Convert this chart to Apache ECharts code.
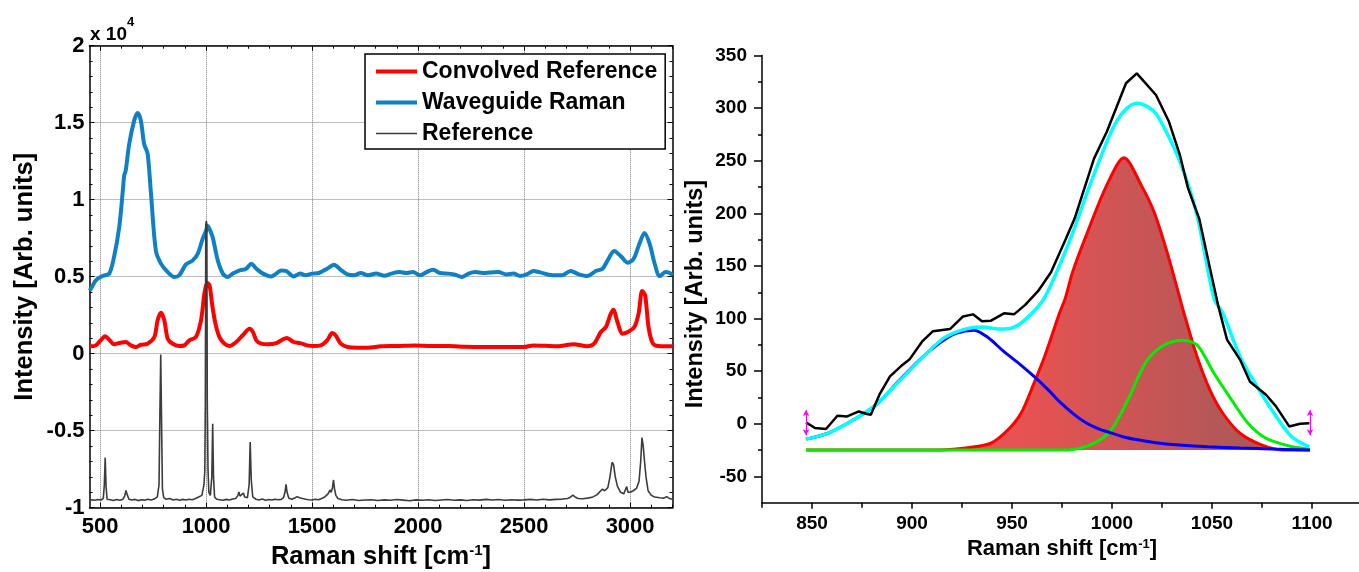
<!DOCTYPE html>
<html><head><meta charset="utf-8">
<script src="https://cdn.jsdelivr.net/npm/echarts@6/dist/echarts.min.js"></script>
<style>html,body{margin:0;padding:0;background:#fff}#c{width:1359px;height:572px}</style>
</head><body><div id="c"></div>
<script>
const FONT = '"Liberation Sans", Arial, sans-serif';

// ---------- Left panel (values in units of 10^4) ----------
const leftXTicks = [500, 1000, 1500, 2000, 2500, 3000];
const leftXMinorTicks = [500,600,700,800,900,1000,1100,1200,1300,1400,1500,1600,1700,1800,1900,2000,2100,2200,2300,2400,2500,2600,2700,2800,2900,3000,3100,3200];

const convX = [450,456,480,503,524,543,566,590,621,645,668,692,724,756,771,787,803,819,842,874,897,921,952,976,992,1005,1016,1028,1044,1063,1087,1110,1142,1173,1205,1221,1237,1260,1292,1331,1355,1381,1413,1444,1476,1508,1540,1571,1595,1611,1635,1667,1714,1762,1825,1905,1984,2063,2143,2222,2300,2400,2497,2544,2656,2735,2798,2830,2862,2886,2909,2922,2938,2965,2989,3020,3040,3057,3071,3087,3108,3147,3200];
const convY = [0.048,0.048,0.054,0.087,0.113,0.091,0.061,0.069,0.076,0.054,0.043,0.058,0.065,0.108,0.216,0.266,0.216,0.097,0.065,0.05,0.054,0.087,0.108,0.216,0.39,0.459,0.444,0.325,0.195,0.108,0.065,0.05,0.076,0.12,0.162,0.141,0.087,0.065,0.061,0.069,0.087,0.102,0.076,0.069,0.054,0.05,0.054,0.087,0.134,0.119,0.065,0.043,0.039,0.039,0.048,0.05,0.054,0.05,0.05,0.045,0.043,0.043,0.043,0.054,0.048,0.061,0.048,0.065,0.141,0.173,0.26,0.286,0.216,0.13,0.141,0.173,0.26,0.407,0.379,0.173,0.065,0.048,0.048];

const waveX = [450,456,480,511,543,566,590,606,614,621,637,661,677,692,708,724,740,763,787,819,850,874,905,937,961,984,1000,1008,1016,1031,1055,1079,1102,1126,1158,1189,1213,1237,1268,1307,1331,1355,1378,1413,1444,1468,1500,1532,1571,1603,1635,1667,1698,1730,1762,1802,1841,1873,1913,1944,1976,2008,2040,2071,2103,2143,2175,2206,2238,2270,2306,2340,2378,2417,2450,2481,2513,2544,2576,2624,2679,2719,2759,2798,2838,2870,2894,2925,2957,2989,3017,3044,3068,3092,3116,3140,3167,3187,3200];
const waveY = [0.41,0.42,0.476,0.504,0.52,0.63,0.82,1.04,1.16,1.19,1.36,1.515,1.563,1.515,1.36,1.30,1.04,0.67,0.585,0.53,0.498,0.51,0.58,0.606,0.65,0.747,0.80,0.83,0.81,0.757,0.606,0.52,0.498,0.52,0.541,0.552,0.584,0.552,0.52,0.502,0.52,0.541,0.537,0.502,0.52,0.51,0.52,0.524,0.552,0.578,0.545,0.515,0.509,0.524,0.509,0.52,0.506,0.52,0.53,0.524,0.53,0.509,0.53,0.545,0.524,0.52,0.513,0.498,0.52,0.53,0.524,0.528,0.53,0.515,0.52,0.504,0.515,0.537,0.528,0.511,0.509,0.537,0.515,0.504,0.537,0.552,0.606,0.667,0.632,0.591,0.617,0.714,0.784,0.714,0.584,0.504,0.53,0.524,0.509];

const refX = [450,462,475,490,505,515,520,524,528,533,548,562,578,593,608,616,622,628,636,650,665,680,695,710,725,740,755,770,778,782,786,790,794,800,812,828,845,860,875,890,905,920,935,950,965,980,990,994,996.5,998.5,1001,1003.5,1005.5,1009,1013,1020,1027,1031,1035,1040,1050,1065,1080,1095,1110,1125,1140,1150,1155,1160,1168,1176,1182,1195,1203,1208,1213,1220,1235,1250,1265,1280,1295,1310,1325,1340,1355,1365,1372,1377,1382,1390,1405,1420,1430,1440,1455,1470,1485,1500,1515,1530,1545,1560,1575,1585,1590,1596,1601,1606,1612,1622,1640,1660,1690,1720,1750,1780,1810,1840,1870,1900,1930,1960,1990,2020,2050,2080,2110,2140,2170,2200,2230,2260,2290,2320,2350,2380,2410,2440,2470,2500,2530,2560,2590,2620,2650,2680,2705,2720,2730,2740,2755,2775,2800,2825,2845,2860,2870,2880,2895,2905,2915,2922,2930,2940,2955,2970,2978,2984,2990,3000,3015,3030,3042,3050,3056,3062,3068,3075,3085,3100,3116,3140,3160,3172,3185,3200];
const refY = [-0.955,-0.948,-0.952,-0.947,-0.95,-0.94,-0.85,-0.675,-0.86,-0.945,-0.948,-0.953,-0.947,-0.952,-0.945,-0.925,-0.888,-0.915,-0.945,-0.95,-0.946,-0.954,-0.948,-0.951,-0.945,-0.95,-0.944,-0.93,-0.85,-0.4,-0.005,-0.45,-0.88,-0.935,-0.945,-0.94,-0.95,-0.945,-0.951,-0.946,-0.95,-0.945,-0.948,-0.94,-0.93,-0.92,-0.85,-0.76,-0.3,0.84,0.86,0.84,-0.3,-0.75,-0.9,-0.92,-0.8,-0.455,-0.8,-0.93,-0.945,-0.948,-0.952,-0.946,-0.95,-0.944,-0.94,-0.92,-0.898,-0.925,-0.915,-0.905,-0.93,-0.935,-0.85,-0.574,-0.82,-0.93,-0.945,-0.95,-0.944,-0.952,-0.947,-0.95,-0.945,-0.948,-0.946,-0.935,-0.9,-0.848,-0.9,-0.938,-0.945,-0.935,-0.928,-0.935,-0.94,-0.945,-0.948,-0.95,-0.945,-0.948,-0.94,-0.93,-0.91,-0.885,-0.9,-0.87,-0.82,-0.88,-0.92,-0.94,-0.948,-0.952,-0.947,-0.953,-0.95,-0.948,-0.953,-0.949,-0.952,-0.947,-0.951,-0.955,-0.949,-0.952,-0.948,-0.953,-0.95,-0.947,-0.952,-0.949,-0.953,-0.948,-0.951,-0.946,-0.95,-0.947,-0.952,-0.948,-0.951,-0.949,-0.946,-0.95,-0.945,-0.949,-0.946,-0.944,-0.94,-0.93,-0.918,-0.93,-0.94,-0.942,-0.938,-0.93,-0.915,-0.892,-0.88,-0.89,-0.87,-0.8,-0.705,-0.72,-0.8,-0.86,-0.9,-0.91,-0.9,-0.862,-0.9,-0.9,-0.89,-0.875,-0.83,-0.7,-0.545,-0.6,-0.7,-0.8,-0.89,-0.92,-0.93,-0.935,-0.938,-0.928,-0.94,-0.945];

// ---------- Right panel ----------
const rightXTicks = [850, 900, 950, 1000, 1050, 1100];
const rightXMinorTicks = [825, 875, 925, 975, 1025, 1075, 1125];
const rightYTicks = [-50, 0, 50, 100, 150, 200, 250, 300, 350];
const rightYMinorTicks = [-25, 25, 75, 125, 175, 225, 275, 325];

const rawX = [847,851.5,857,862.7,867.6,873.4,877,879.4,883.7,889,894.4,898.7,905,910.5,919,925.5,930.5,935,939.5,946,951,956.6,963,969.5,977,981.3,991,997.4,1007,1012.4,1022,1028.5,1034,1038,1043.6,1049,1053,1057.5,1064,1069,1077,1082,1088.6,1094,1098.7];
const rawY = [1.3,-4,-5,7.6,7,11.7,9.5,8.6,27.6,45,54.6,61,78,88,90,102,104,97.5,98,105,104,113,126,144,176,195,252,277.6,323.6,333,312.5,287,255,224,195,147.5,113,80,61,40,27.6,16.5,-2.5,0,0.6];

const fitX = [847,858,871,881.8,894.4,905,916,926.6,935,943.8,950,956.6,966,978,989,999.6,1006,1012.4,1018,1023,1034,1042.5,1051,1055.4,1064,1072.5,1081,1089.7,1098.7];
const fitY = [-14.6,-9,4,18,42,62.5,81.6,90,92,90,91,99,119,170,227,277.6,297,304.6,301,292,249,198,119,105,64,35.5,10,-12,-22];

const band1X = [847,858,871,882,894,905,914,922,931,938,946,954,961,968,974,981,987,993,1000,1006,1012,1022,1032,1048,1064,1080,1099];
const band1Y = [-14.6,-9,4,18,42,63,77,86,89,82,68.5,56.5,45,32.5,20.5,9,1,-4.5,-8.9,-12.5,-15,-18,-20,-21.8,-23,-24,-24.8];

const band2X = [847,880,913.7,928.8,939.5,948,954.5,961,966.3,973.8,976.6,980.3,987.8,997.4,1006,1014.6,1021,1027.5,1034,1036,1042.5,1049,1055.4,1064,1074.7,1085,1099];
const band2Y = [-25,-25,-24.8,-22.5,-18.4,-5.7,10,38.7,64,105.4,119,144.3,182.4,226.8,252.9,226.8,201.4,163.3,119,105,64,32,10,-9,-20,-24.8,-25];

const band3X = [847,900,960,978,991,999.6,1008,1016.7,1025,1035,1042.5,1051,1059.7,1068,1077,1089.7,1098.7];
const band3Y = [-25,-25,-25,-24.8,-18.4,-5.7,23,57.8,73.6,79.4,75,48,23,0.6,-13.7,-21.6,-24];

const baseline = -25;
const handleX = [847, 1099];
const handleY = [-11, 13];

const pairs = (xs, ys) => xs.map((x, i) => [x, ys[i]]);
const plain = v => String(v);

const chart = echarts.init(document.getElementById('c'), null, {renderer: 'canvas'});

const leftGrid = {left: 89.5, top: 45.7, width: 583, height: 462, outerBoundsMode: 'none', containLabel: false};
const rightGrid = {left: 762, top: 55.5, width: 600, height: 447.2, outerBoundsMode: 'none', containLabel: false};

const blackLine = {color: '#000', width: 1.5};
const noZeroLine = {show: true, onZero: false, lineStyle: blackLine};
const hiddenLine = {show: false, onZero: false};
const tickLabel = (size, margin) => ({fontFamily: FONT, fontWeight: 'bold', fontSize: size, color: '#000', margin: margin});

const xTitleRich = (size, sup) => ({
  t: {fontFamily: FONT, fontWeight: 'bold', fontSize: size, color: '#000', verticalAlign: 'bottom'},
  s: {fontFamily: FONT, fontWeight: 'bold', fontSize: sup, color: '#000', verticalAlign: 'top', lineHeight: sup}
});

const legendNames = ['Convolved Reference', 'Waveguide Raman', 'Reference'];
const legendWidths = [4, 4, 1.6];
const legendColors = ['#ff0000', '#0f80c4', '#3c3c3c'];

const option = {
  animation: false,
  backgroundColor: '#fff',
  grid: [leftGrid, rightGrid],
  legend: {
    data: legendNames.map((n, i) => ({name: n, itemStyle: {opacity: 0}, lineStyle: {width: legendWidths[i], color: legendColors[i]}})),
    orient: 'vertical',
    left: 365, top: 54,
    itemWidth: 41, itemHeight: 14, itemGap: 8,
    padding: [6, 8, 4, 9],
    backgroundColor: '#fff',
    borderColor: '#000', borderWidth: 1.5, borderRadius: 0,
    itemStyle: {opacity: 0},
    textStyle: {fontFamily: FONT, fontWeight: 'bold', fontSize: 23, color: '#000', lineHeight: 23}
  },
  graphic: [{
    type: 'text', left: 90, top: 16,
    style: {
      text: '{a|x 10}{b|4}',
      rich: {
        a: {fontFamily: FONT, fontWeight: 'bold', fontSize: 19, fill: '#000', verticalAlign: 'bottom', lineHeight: 28},
        b: {fontFamily: FONT, fontWeight: 'bold', fontSize: 13, fill: '#000', verticalAlign: 'top', lineHeight: 14}
      }
    }
  }],
  xAxis: [
    { // left bottom, majors + labels + grid
      gridIndex: 0, type: 'value', min: 450, max: 3200, position: 'bottom',
      axisLine: noZeroLine,
      axisTick: {show: true, inside: true, length: 5, customValues: leftXTicks, lineStyle: {color: '#000', width: 1}},
      axisLabel: Object.assign({customValues: leftXTicks, formatter: plain}, tickLabel(22, 8)),
      splitLine: {show: true, lineStyle: {color: '#7a7a7a', width: 1, type: 'dotted'}},
      name: '{t|Raman shift [cm}{s|-1}{t|]}', nameLocation: 'middle', nameGap: 36, nameMoveOverlap: false,
      nameTextStyle: {fontFamily: FONT, fontWeight: 'bold', fontSize: 25.5, color: '#000', rich: xTitleRich(25.5, 15)}
    },
    { // left bottom minors
      gridIndex: 0, type: 'value', min: 450, max: 3200, position: 'bottom',
      axisLine: hiddenLine,
      axisTick: {show: true, inside: true, length: 3, customValues: leftXMinorTicks, lineStyle: {color: '#000', width: 1}},
      axisLabel: {show: false}, splitLine: {show: false}
    },
    { // left top majors
      gridIndex: 0, type: 'value', min: 450, max: 3200, position: 'top',
      axisLine: noZeroLine,
      axisTick: {show: true, inside: true, length: 5, customValues: leftXTicks, lineStyle: {color: '#000', width: 1}},
      axisLabel: {show: false}, splitLine: {show: false}
    },
    { // left top minors
      gridIndex: 0, type: 'value', min: 450, max: 3200, position: 'top',
      axisLine: hiddenLine,
      axisTick: {show: true, inside: true, length: 3, customValues: leftXMinorTicks, lineStyle: {color: '#000', width: 1}},
      axisLabel: {show: false}, splitLine: {show: false}
    },
    { // right panel x majors
      gridIndex: 1, type: 'value', min: 825, max: 1125, position: 'bottom',
      axisLine: noZeroLine,
      axisTick: {show: true, inside: false, length: 6, customValues: rightXTicks, lineStyle: {color: '#000', width: 1.5}},
      axisLabel: Object.assign({customValues: rightXTicks, formatter: plain}, tickLabel(19, 12)),
      splitLine: {show: false},
      name: '{t|Raman shift [cm}{s|-1}{t|]}', nameLocation: 'middle', nameGap: 35, nameMoveOverlap: false,
      nameTextStyle: {fontFamily: FONT, fontWeight: 'bold', fontSize: 22, color: '#000', rich: xTitleRich(22, 13)}
    },
    { // right panel x minors
      gridIndex: 1, type: 'value', min: 825, max: 1125, position: 'bottom',
      axisLine: hiddenLine,
      axisTick: {show: true, inside: false, length: 5, customValues: rightXMinorTicks, lineStyle: {color: '#000', width: 1.5}},
      axisLabel: {show: false}, splitLine: {show: false}
    }
  ],
  yAxis: [
    { // left
      gridIndex: 0, type: 'value', min: -1, max: 2, interval: 0.5, position: 'left',
      axisLine: noZeroLine,
      axisTick: {show: true, inside: true, length: 5, lineStyle: {color: '#000', width: 1}},
      minorTick: {show: true, splitNumber: 5, length: 3, lineStyle: {color: '#000', width: 1}},
      axisLabel: Object.assign({formatter: plain}, tickLabel(22, 5)),
      splitLine: {show: true, lineStyle: {color: '#7a7a7a', width: 1, type: 'dotted'}},
      name: 'Intensity [Arb. units]', nameLocation: 'middle', nameGap: 52, nameMoveOverlap: false,
      nameTextStyle: {fontFamily: FONT, fontWeight: 'bold', fontSize: 25.5, color: '#000'}
    },
    { // left frame right side
      gridIndex: 0, type: 'value', min: -1, max: 2, interval: 0.5, position: 'right',
      axisLine: noZeroLine,
      axisTick: {show: true, inside: true, length: 5, lineStyle: {color: '#000', width: 1}},
      minorTick: {show: true, splitNumber: 5, length: 3, lineStyle: {color: '#000', width: 1}},
      axisLabel: {show: false}, splitLine: {show: false}
    },
    { // right panel y majors
      gridIndex: 1, type: 'value', min: -75, max: 350, position: 'left',
      axisLine: noZeroLine,
      axisTick: {show: true, inside: false, length: 8, customValues: rightYTicks, lineStyle: {color: '#000', width: 1.5}},
      axisLabel: Object.assign({customValues: rightYTicks, formatter: plain}, tickLabel(19, 15)),
      splitLine: {show: false},
      name: 'Intensity [Arb. units]', nameLocation: 'middle', nameGap: 54, nameMoveOverlap: false,
      nameTextStyle: {fontFamily: FONT, fontWeight: 'bold', fontSize: 23.5, color: '#000', padding: [0, 30, 0, 0]}
    },
    { // right panel y minors
      gridIndex: 1, type: 'value', min: -75, max: 350, position: 'left',
      axisLine: hiddenLine,
      axisTick: {show: true, inside: false, length: 4, customValues: rightYMinorTicks, lineStyle: {color: '#000', width: 1.5}},
      axisLabel: {show: false}, splitLine: {show: false}
    }
  ],
  series: [
    {
      name: 'Convolved Reference', type: 'line', xAxisIndex: 0, yAxisIndex: 0,
      data: pairs(convX, convY), symbol: 'none', smooth: 0.3,
      lineStyle: {color: '#ff0000', width: 4}, itemStyle: {color: '#ff0000'}
    },
    {
      name: 'Waveguide Raman', type: 'line', xAxisIndex: 0, yAxisIndex: 0,
      data: pairs(waveX, waveY), symbol: 'none', smooth: 0.3,
      lineStyle: {color: '#0f80c4', width: 4}, itemStyle: {color: '#0f80c4'}
    },
    {
      name: 'Reference', type: 'line', xAxisIndex: 0, yAxisIndex: 0,
      data: pairs(refX, refY), symbol: 'none',
      lineStyle: {color: '#3c3c3c', width: 1.6}, itemStyle: {color: '#3c3c3c'}
    },
    {
      name: 'Band 1005', type: 'line', xAxisIndex: 4, yAxisIndex: 2,
      data: pairs(band2X, band2Y), symbol: 'none', smooth: 0.3,
      lineStyle: {color: '#ff0000', width: 3},
      areaStyle: {
        origin: baseline, opacity: 1,
        color: new echarts.graphic.LinearGradient(0, 0, 1, 0, [
          {offset: 0, color: '#f45050'}, {offset: 0.45, color: '#e65252'}, {offset: 1, color: '#9c5a5a'}
        ])
      }
    },
    {
      name: 'Band 1035', type: 'line', xAxisIndex: 4, yAxisIndex: 2,
      data: pairs(band3X, band3Y), symbol: 'none', smooth: 0.3,
      lineStyle: {color: '#00ee00', width: 3}
    },
    {
      name: 'Band 930', type: 'line', xAxisIndex: 4, yAxisIndex: 2,
      data: pairs(band1X, band1Y), symbol: 'none', smooth: 0.3,
      lineStyle: {color: '#0000ff', width: 3}
    },
    {
      name: 'Cumulative fit', type: 'line', xAxisIndex: 4, yAxisIndex: 2,
      data: pairs(fitX, fitY), symbol: 'none', smooth: 0.3,
      lineStyle: {color: '#00ffff', width: 3.5}
    },
    {
      name: 'Data', type: 'line', xAxisIndex: 4, yAxisIndex: 2,
      data: pairs(rawX, rawY), symbol: 'none',
      lineStyle: {color: '#000000', width: 2.5},
      markLine: {
        silent: true, animation: false,
        symbol: ['arrow', 'arrow'], symbolSize: [5, 6],
        label: {show: false},
        lineStyle: {color: '#ff00ff', width: 1, type: 'solid'},
        data: handleX.map(x => [{coord: [x, handleY[0]]}, {coord: [x, handleY[1]]}])
      }
    }
  ]
};
chart.setOption(option);
</script></body></html>
